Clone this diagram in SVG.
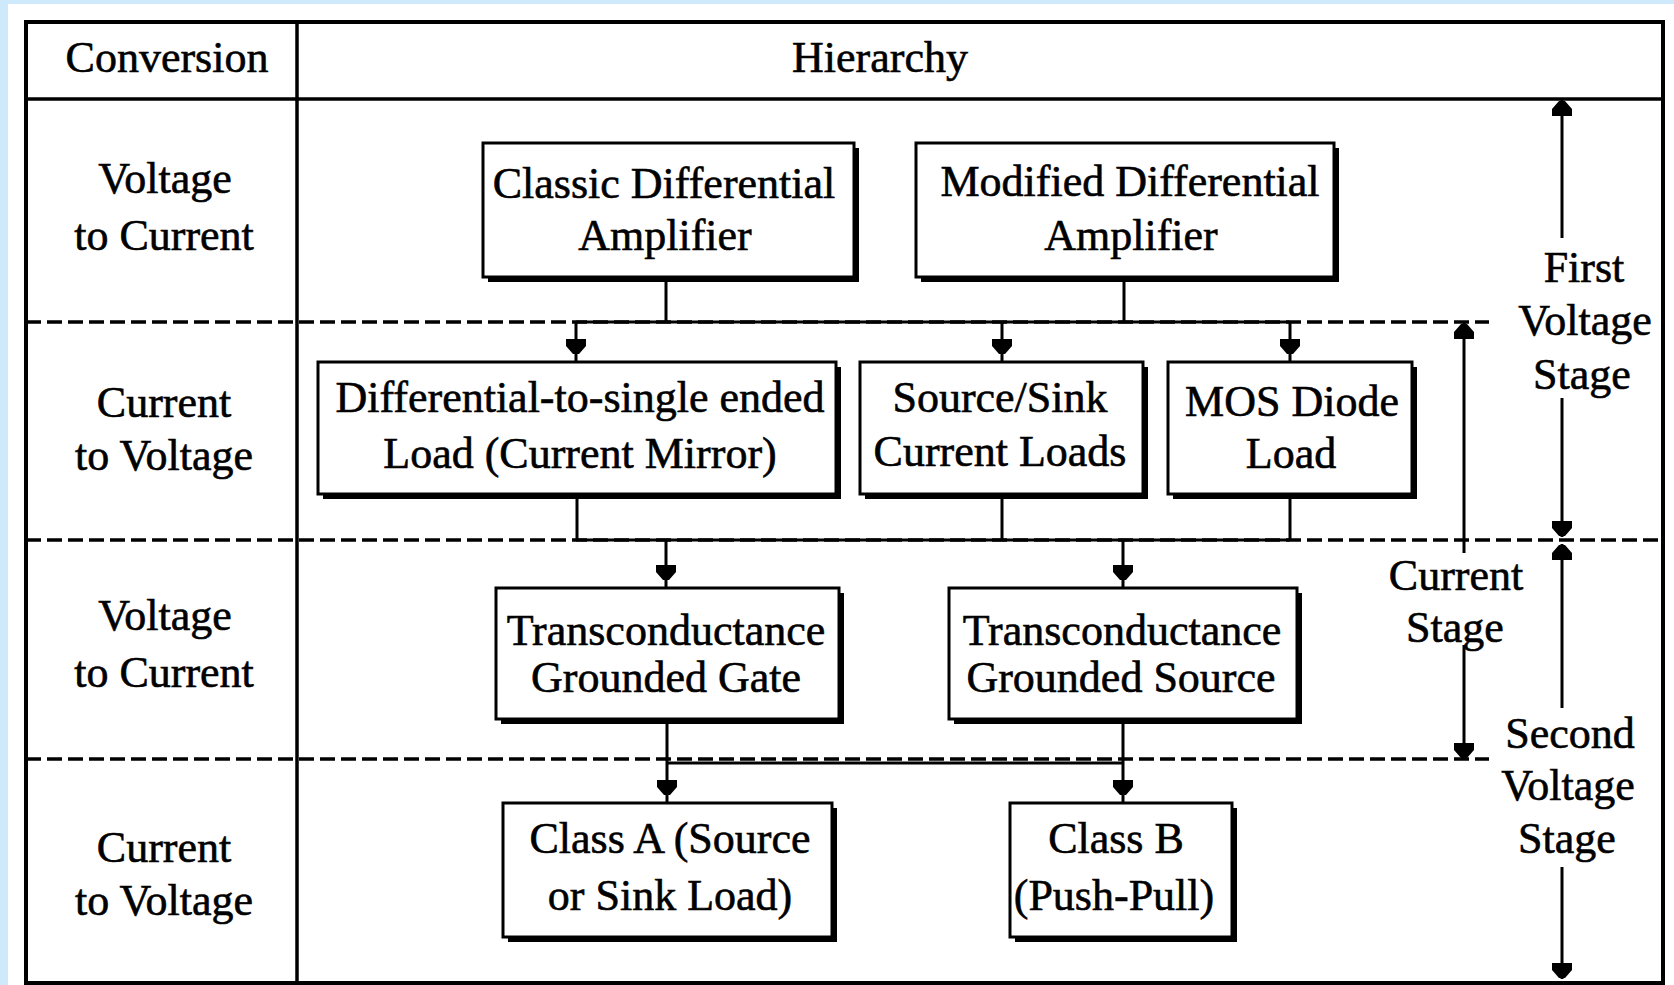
<svg xmlns="http://www.w3.org/2000/svg" xmlns:xlink="http://www.w3.org/1999/xlink" width="1674" height="985" viewBox="0 0 1674 985">
  <defs>
    <style>
      .t { font-family: "Liberation Serif", "Times New Roman", serif; font-size: 44px; fill: #000; stroke: #000; stroke-width: 0.6; text-anchor: middle; }
      .frame { fill: none; stroke: #000; stroke-width: 4; }
      .rule { fill: none; stroke: #000; stroke-width: 3.5; }
      .dash { fill: none; stroke: #000; stroke-width: 3.5; stroke-dasharray: 15 6; }
      .box { fill: #fff; stroke: #000; stroke-width: 3; }
      .shadow { fill: #000; stroke: none; }
      .conn { fill: none; stroke: #000; stroke-width: 3; }
      .head { fill: #000; stroke: none; }
    </style>
    <!-- arrowheads, tip at the origin -->
    <path id="ahDown" d="M-10,-15 H10 V-8 L3,0 H-3 L-10,-8 Z"/>
    <path id="ahUp" d="M-10,15 H10 V8 L3,0 H-3 L-10,8 Z"/>
  </defs>

  <!-- page -->
  <rect x="0" y="0" width="1674" height="985" fill="#cde9fb"/>
  <rect x="8" y="4" width="1666" height="981" fill="#fff"/>

  <!-- table frame -->
  <g id="table">
    <rect class="frame" x="26" y="22" width="1637" height="961"/>
    <line class="rule" x1="26" y1="99" x2="1663" y2="99"/>
    <line class="rule" x1="297" y1="22" x2="297" y2="983"/>
    <line class="dash" x1="26" y1="322" x2="1489" y2="322"/>
    <line class="dash" x1="26" y1="540" x2="1663" y2="540"/>
    <line class="dash" x1="26" y1="759" x2="1489" y2="759"/>
    <text class="t" x="167" y="72">Conversion</text>
    <text class="t" x="880" y="72">Hierarchy</text>
  </g>

  <!-- conversion column -->
  <g id="conversion">
    <text class="t" x="165" y="193">Voltage</text>
    <text class="t" x="164" y="250">to Current</text>
    <text class="t" x="164" y="417">Current</text>
    <text class="t" x="164" y="470">to Voltage</text>
    <text class="t" x="165" y="630">Voltage</text>
    <text class="t" x="164" y="687">to Current</text>
    <text class="t" x="164" y="862">Current</text>
    <text class="t" x="164" y="915">to Voltage</text>
  </g>

  <!-- connectors -->
  <g id="connectors">
    <path class="conn" d="M666,278 V322 M1124,278 V322 M576,322 H1290 M576,322 V362 M1002,322 V362 M1290,322 V362"/>
    <use xlink:href="#ahDown" href="#ahDown" class="head" x="576" y="354"/>
    <use xlink:href="#ahDown" href="#ahDown" class="head" x="1002" y="354"/>
    <use xlink:href="#ahDown" href="#ahDown" class="head" x="1290" y="354"/>

    <path class="conn" d="M577,494 V540 M1002,494 V540 M1290,494 V540 M576,540 H1290 M666,540 V588 M1123,540 V588"/>
    <use xlink:href="#ahDown" href="#ahDown" class="head" x="666" y="580"/>
    <use xlink:href="#ahDown" href="#ahDown" class="head" x="1123" y="580"/>

    <path class="conn" d="M667,720 V803 M1123,720 V803 M666,763 H1123"/>
    <use xlink:href="#ahDown" href="#ahDown" class="head" x="667" y="795"/>
    <use xlink:href="#ahDown" href="#ahDown" class="head" x="1123" y="795"/>
  </g>

  <!-- hierarchy blocks -->
  <g id="classic-diff-amp">
    <rect class="shadow" x="488" y="148" width="371" height="134"/>
    <rect class="box" x="483" y="143" width="371" height="134"/>
    <text class="t" x="664" y="198">Classic Differential</text>
    <text class="t" x="665" y="250">Amplifier</text>
  </g>
  <g id="modified-diff-amp">
    <rect class="shadow" x="921" y="148" width="418" height="134"/>
    <rect class="box" x="916" y="143" width="418" height="134"/>
    <text class="t" x="1130" y="196">Modified Differential</text>
    <text class="t" x="1131" y="250">Amplifier</text>
  </g>
  <g id="diff-to-single-load">
    <rect class="shadow" x="323" y="367" width="518" height="132"/>
    <rect class="box" x="318" y="362" width="518" height="132"/>
    <text class="t" x="580" y="412">Differential-to-single ended</text>
    <text class="t" x="580" y="468">Load (Current Mirror)</text>
  </g>
  <g id="source-sink-loads">
    <rect class="shadow" x="865" y="367" width="283" height="132"/>
    <rect class="box" x="860" y="362" width="283" height="132"/>
    <text class="t" x="1000" y="412">Source/Sink</text>
    <text class="t" x="1000" y="466">Current Loads</text>
  </g>
  <g id="mos-diode-load">
    <rect class="shadow" x="1173" y="367" width="244" height="132"/>
    <rect class="box" x="1168" y="362" width="244" height="132"/>
    <text class="t" x="1292" y="416">MOS Diode</text>
    <text class="t" x="1291" y="468">Load</text>
  </g>
  <g id="gm-grounded-gate">
    <rect class="shadow" x="501" y="593" width="343" height="131"/>
    <rect class="box" x="496" y="588" width="343" height="131"/>
    <text class="t" x="666" y="645">Transconductance</text>
    <text class="t" x="666" y="692">Grounded Gate</text>
  </g>
  <g id="gm-grounded-source">
    <rect class="shadow" x="954" y="593" width="348" height="131"/>
    <rect class="box" x="949" y="588" width="348" height="131"/>
    <text class="t" x="1122" y="645">Transconductance</text>
    <text class="t" x="1121" y="692">Grounded Source</text>
  </g>
  <g id="class-a">
    <rect class="shadow" x="508" y="808" width="329" height="134"/>
    <rect class="box" x="503" y="803" width="329" height="134"/>
    <text class="t" x="670" y="853">Class A (Source</text>
    <text class="t" x="670" y="910">or Sink Load)</text>
  </g>
  <g id="class-b">
    <rect class="shadow" x="1015" y="808" width="222" height="134"/>
    <rect class="box" x="1010" y="803" width="222" height="134"/>
    <text class="t" x="1116" y="853">Class B</text>
    <text class="t" x="1114" y="910">(Push-Pull)</text>
  </g>

  <!-- stage spans -->
  <g id="first-voltage-stage">
    <path class="conn" d="M1562,100 V238 M1562,398 V537"/>
    <use xlink:href="#ahUp" href="#ahUp" class="head" x="1562" y="101"/>
    <use xlink:href="#ahDown" href="#ahDown" class="head" x="1562" y="536"/>
    <text class="t" x="1584" y="282">First</text>
    <text class="t" x="1585" y="335">Voltage</text>
    <text class="t" x="1582" y="389">Stage</text>
  </g>
  <g id="current-stage">
    <path class="conn" d="M1464,323 V553 M1464,645 V758"/>
    <use xlink:href="#ahUp" href="#ahUp" class="head" x="1464" y="324"/>
    <use xlink:href="#ahDown" href="#ahDown" class="head" x="1464" y="758"/>
    <text class="t" x="1456" y="590">Current</text>
    <text class="t" x="1455" y="642">Stage</text>
  </g>
  <g id="second-voltage-stage">
    <path class="conn" d="M1562,544 V708 M1562,867 V979"/>
    <use xlink:href="#ahUp" href="#ahUp" class="head" x="1562" y="545"/>
    <use xlink:href="#ahDown" href="#ahDown" class="head" x="1562" y="978"/>
    <text class="t" x="1570" y="748">Second</text>
    <text class="t" x="1568" y="800">Voltage</text>
    <text class="t" x="1567" y="853">Stage</text>
  </g>
</svg>
